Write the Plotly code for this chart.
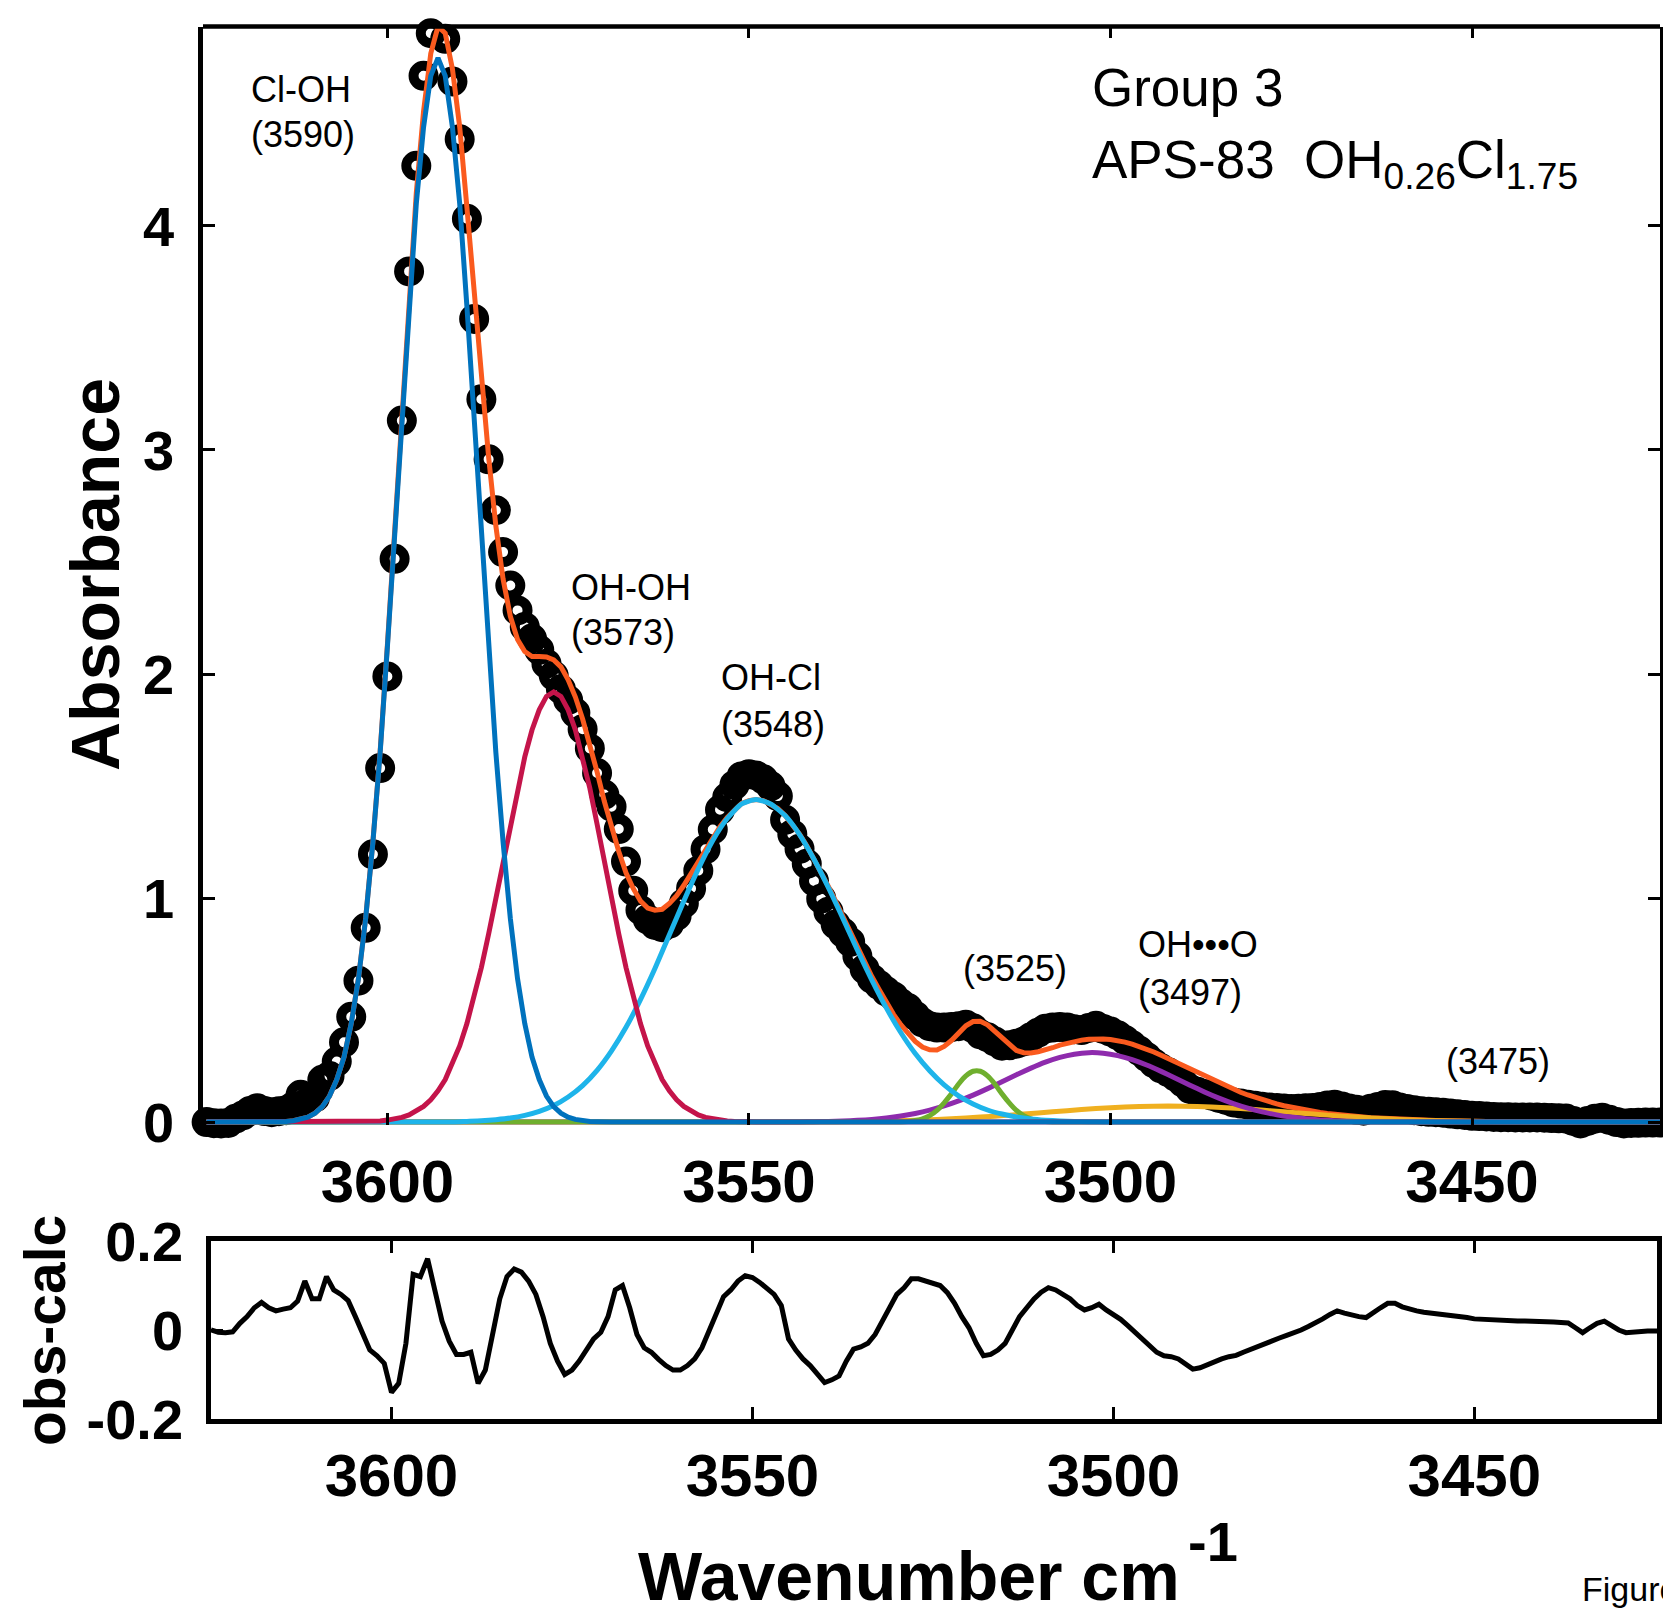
import plotly.graph_objects as go

# ---------------- data ----------------
WAVENUMBER = list(range(3625, 3423, -1))  # 3625 ... 3424 cm-1, 1 cm-1 steps

OBSERVED = [
    0.000, -0.005, -0.006, -0.004, 0.015, 0.030, 0.050, 0.062, 0.050, 0.044,   # 3625-3616
    0.049, 0.053, 0.071, 0.122, 0.092, 0.110, 0.189, 0.206, 0.270, 0.356,      # 3615-3606
    0.470, 0.631, 0.867, 1.195, 1.580, 1.989, 2.514, 3.131, 3.797, 4.268,      # 3605-3596
    4.670, 4.860, 4.910, 4.835, 4.645, 4.387, 4.032, 3.585, 3.226, 2.958,      # 3595-3586
    2.731, 2.544, 2.395, 2.284, 2.210, 2.158, 2.108, 2.046, 1.993, 1.932,      # 3585-3576
    1.884, 1.827, 1.754, 1.668, 1.558, 1.462, 1.408, 1.308, 1.163, 1.033,      # 3575-3566
    0.947, 0.905, 0.880, 0.870, 0.886, 0.921, 0.977, 1.043, 1.122, 1.218,      # 3565-3556
    1.306, 1.394, 1.450, 1.505, 1.544, 1.553, 1.547, 1.530, 1.500, 1.455,      # 3555-3546
    1.349, 1.285, 1.220, 1.153, 1.076, 0.997, 0.939, 0.882, 0.846, 0.804,      # 3545-3536
    0.741, 0.683, 0.640, 0.612, 0.584, 0.561, 0.530, 0.509, 0.475, 0.445,      # 3535-3526
    0.428, 0.422, 0.422, 0.424, 0.428, 0.435, 0.419, 0.392, 0.379, 0.360,      # 3525-3516
    0.341, 0.343, 0.350, 0.360, 0.379, 0.399, 0.417, 0.422, 0.424, 0.422,      # 3515-3506
    0.415, 0.411, 0.420, 0.430, 0.416, 0.404, 0.388, 0.367, 0.343, 0.318,      # 3505-3496
    0.291, 0.263, 0.240, 0.223, 0.203, 0.177, 0.148, 0.135, 0.126, 0.118,      # 3495-3486
    0.108, 0.099, 0.088, 0.083, 0.078, 0.073, 0.069, 0.065, 0.063, 0.061,      # 3485-3476
    0.059, 0.060, 0.062, 0.063, 0.068, 0.074, 0.078, 0.070, 0.061, 0.055,      # 3475-3466
    0.051, 0.060, 0.068, 0.076, 0.075, 0.065, 0.058, 0.053, 0.049, 0.046,      # 3465-3456
    0.044, 0.042, 0.038, 0.035, 0.032, 0.028, 0.027, 0.025, 0.023, 0.022,      # 3455-3446
    0.022, 0.021, 0.021, 0.021, 0.021, 0.020, 0.018, 0.017, 0.016, 0.005,      # 3445-3436
    -0.006, 0.005, 0.015, 0.020, 0.010, 0.000, -0.006, -0.004, -0.003, -0.002, # 3435-3426
    -0.002, -0.002,                                                            # 3425-3424
]

FIT_SUM = [
    0.000, 0.000, 0.000, 0.000, 0.000, 0.000, 0.000, 0.000, 0.000, 0.001,
    0.002, 0.003, 0.006, 0.012, 0.022, 0.040, 0.069, 0.116, 0.190, 0.290,
    0.440, 0.641, 0.912, 1.253, 1.655, 2.129, 2.634, 3.161, 3.672, 4.148,
    4.510, 4.770, 4.890, 4.860, 4.700, 4.442, 4.082, 3.705, 3.316, 2.968,
    2.661, 2.424, 2.258, 2.154, 2.100, 2.078, 2.078, 2.076, 2.063, 2.032,
    1.974, 1.897, 1.799, 1.688, 1.563, 1.432, 1.318, 1.208, 1.113, 1.043,
    0.987, 0.955, 0.946, 0.950, 0.976, 1.011, 1.057, 1.108, 1.162, 1.218,
    1.271, 1.319, 1.360, 1.395, 1.422, 1.435, 1.440, 1.435, 1.420, 1.400,
    1.369, 1.330, 1.285, 1.233, 1.176, 1.115, 1.051, 0.985, 0.916, 0.847,
    0.779, 0.713, 0.650, 0.592, 0.534, 0.481, 0.435, 0.394, 0.360, 0.335,
    0.323, 0.322, 0.338, 0.364, 0.398, 0.430, 0.449, 0.450, 0.434, 0.405,
    0.371, 0.343, 0.320, 0.310, 0.309, 0.314, 0.322, 0.332, 0.344, 0.352,
    0.360, 0.366, 0.370, 0.372, 0.371, 0.369, 0.364, 0.357, 0.348, 0.338,
    0.326, 0.313, 0.298, 0.283, 0.268, 0.252, 0.236, 0.220, 0.204, 0.188,
    0.173, 0.159, 0.145, 0.133, 0.121, 0.110, 0.099, 0.090, 0.081, 0.073,
    0.066, 0.060, 0.054, 0.048, 0.043, 0.039, 0.035, 0.032, 0.028, 0.025,
    0.023, 0.020, 0.018, 0.016, 0.015, 0.013, 0.011, 0.010, 0.009, 0.008,
    0.007, 0.006, 0.005, 0.005, 0.004, 0.003, 0.003, 0.003, 0.002, 0.002,
    0.002, 0.001, 0.001, 0.001, 0.001, 0.001, 0.000, 0.000, 0.000, 0.000,
    0.000, 0.000, 0.000, 0.000, 0.000, 0.000, 0.000, 0.000, 0.000, 0.000,
    0.000, 0.000,
]

RESIDUAL = [
    0.000, -0.005, -0.006, -0.004, 0.015, 0.030, 0.050, 0.062, 0.050, 0.043,
    0.047, 0.050, 0.065, 0.110, 0.070, 0.070, 0.120, 0.090, 0.080, 0.066,
    0.030, -0.010, -0.045, -0.058, -0.075, -0.140, -0.120, -0.030, 0.125, 0.120,
    0.160, 0.090, 0.020, -0.025, -0.055, -0.055, -0.050, -0.120, -0.090, -0.010,
    0.070, 0.120, 0.137, 0.130, 0.110, 0.080, 0.030, -0.030, -0.070, -0.100,
    -0.090, -0.070, -0.045, -0.020, -0.005, 0.030, 0.090, 0.100, 0.050, -0.010,
    -0.040, -0.050, -0.066, -0.080, -0.090, -0.090, -0.080, -0.065, -0.040, 0.000,
    0.035, 0.075, 0.090, 0.110, 0.122, 0.118, 0.107, 0.095, 0.080, 0.055,
    -0.020, -0.045, -0.065, -0.080, -0.100, -0.118, -0.112, -0.103, -0.070, -0.043,
    -0.038, -0.030, -0.010, 0.020, 0.050, 0.080, 0.095, 0.115, 0.115, 0.110,
    0.105, 0.100, 0.084, 0.060, 0.030, 0.005, -0.030, -0.058, -0.055, -0.045,
    -0.030, 0.000, 0.030, 0.050, 0.070, 0.085, 0.095, 0.090, 0.080, 0.070,
    0.055, 0.045, 0.050, 0.058, 0.045, 0.035, 0.024, 0.010, -0.005, -0.020,
    -0.035, -0.050, -0.058, -0.060, -0.065, -0.075, -0.088, -0.085, -0.078, -0.070,
    -0.065, -0.060, -0.057, -0.050, -0.043, -0.037, -0.030, -0.025, -0.018, -0.012,
    -0.007, 0.000, 0.008, 0.015, 0.025, 0.035, 0.043, 0.038, 0.033, 0.030,
    0.028, 0.040, 0.050, 0.060, 0.060, 0.052, 0.047, 0.043, 0.040, 0.038,
    0.037, 0.036, 0.033, 0.030, 0.028, 0.025, 0.024, 0.022, 0.021, 0.020,
    0.020, 0.020, 0.020, 0.020, 0.020, 0.019, 0.018, 0.017, 0.016, 0.005,
    -0.006, 0.005, 0.015, 0.020, 0.010, 0.000, -0.006, -0.004, -0.003, -0.002,
    -0.002, -0.002,
]

# fitted components
CLOH_W = [3625, 3617] + list(range(3615, 3570, -1)) + [3569, 3424]
CLOH_V = [0, 0,
          0.002, 0.003, 0.006, 0.012, 0.022, 0.040, 0.069, 0.116, 0.19, 0.29, 0.44,
          0.64, 0.91, 1.25, 1.65, 2.12, 2.62, 3.14, 3.64, 4.10, 4.44, 4.67,
          4.75,
          4.67, 4.44, 4.10, 3.64, 3.14, 2.62, 2.12, 1.65, 1.25, 0.91, 0.64,
          0.44, 0.29, 0.19, 0.116, 0.069, 0.040, 0.022, 0.012, 0.006, 0.003, 0.002,
          0, 0]

OHOH_W = [3625, 3605] + list(range(3603, 3550, -1)) + [3549, 3424]
OHOH_V = [0, 0,
          0.002, 0.003, 0.005, 0.009, 0.014, 0.021, 0.032, 0.048, 0.07, 0.10, 0.14,
          0.19, 0.26, 0.34, 0.44, 0.56, 0.69, 0.84, 1.00, 1.16, 1.33, 1.49, 1.63,
          1.75, 1.84, 1.90,
          1.92,
          1.90, 1.84, 1.75, 1.63, 1.49, 1.33, 1.16, 1.00, 0.84, 0.69, 0.56, 0.44,
          0.34, 0.26, 0.19, 0.14, 0.10, 0.07, 0.048, 0.032, 0.021, 0.014, 0.009,
          0.005, 0.003, 0.002,
          0, 0]

OHCL_W = [3625] + list(range(3591, 3498, -2)) + [3424]
OHCL_V = [0,
          0.000, 0.003, 0.006, 0.011, 0.018, 0.030, 0.048, 0.074, 0.112, 0.163, 0.231,
          0.318, 0.423, 0.547, 0.686, 0.836, 0.987, 1.13, 1.257, 1.355, 1.42,
          1.44,
          1.42, 1.368, 1.283, 1.173, 1.046, 0.909, 0.768, 0.634, 0.51, 0.40, 0.306,
          0.229, 0.166, 0.117, 0.081, 0.054, 0.036, 0.023, 0.014, 0.0086, 0.005,
          0.003, 0.0017, 0.001, 0.0,
          0]

B3525_W = [3625] + list(range(3530, 3506, -1)) + [3424]
B3525_V = [0,
           0.0, 0.001, 0.003, 0.007, 0.015, 0.029, 0.052, 0.086, 0.126, 0.170, 0.206,
           0.227, 0.227, 0.206, 0.170, 0.126, 0.086, 0.052, 0.029, 0.015, 0.007,
           0.003, 0.001, 0.0,
           0]

OHO_W = [3625] + list(range(3545, 3458, -2)) + [3424]
OHO_V = [0,
         0.0007, 0.001, 0.0018, 0.003, 0.005, 0.0079, 0.0122, 0.0185, 0.0271, 0.0386,
         0.0535, 0.0721, 0.0945, 0.1205, 0.1495, 0.1804, 0.2114, 0.241, 0.2677,
         0.289, 0.3033, 0.31,
         0.3076, 0.297, 0.279, 0.255, 0.2265, 0.196, 0.1647, 0.1347, 0.1071, 0.0828,
         0.0623, 0.0456, 0.0324, 0.0224, 0.0151, 0.0099, 0.0063, 0.0039, 0.0023,
         0.0013, 0.0007, 0.0,
         0]

B3475_W = [3625] + list(range(3548, 3431, -4)) + [3424]
B3475_V = [0,
           0.0003, 0.0007, 0.0013, 0.0025, 0.0045, 0.0077, 0.0122, 0.0186, 0.0266,
           0.036, 0.0462, 0.0561, 0.0645, 0.070, 0.072,
           0.070, 0.0645, 0.0561, 0.0462, 0.036, 0.0266, 0.0186, 0.0122, 0.0077,
           0.0045, 0.0025, 0.0013, 0.0007, 0.0003, 0.0,
           0]

X_TICKS = [3600, 3550, 3500, 3450]
Y_TICKS = [0, 1, 2, 3, 4]
RES_TICKS = [-0.2, 0, 0.2]
RES_TICK_TEXT = ["-0.2", "0", "0.2"]

# ---------------- styling ----------------
W, H = 1663, 1611
FONT = "Liberation Sans, Arial, sans-serif"
C_BLUE = "#0072BD"
C_RED = "#C4144A"
C_CYAN = "#1EB4EA"
C_GREEN = "#6FAF2E"
C_PURPLE = "#8E2BAD"
C_YELLOW = "#F0B020"
C_SUM = "#FA5A1E"
LW = 5


def px(x):
    return x / W


def py(y):
    return 1 - y / H


fig = go.Figure()

fig.add_trace(go.Scatter(
    x=WAVENUMBER, y=OBSERVED, mode="markers", cliponaxis=False,
    marker=dict(symbol="circle-open", size=20, color="black", line=dict(width=10, color="black")),
    xaxis="x", yaxis="y", showlegend=False))
fig.add_trace(go.Scatter(x=WAVENUMBER, y=FIT_SUM, mode="lines",
                         line=dict(color=C_SUM, width=5), xaxis="x", yaxis="y", showlegend=False))
for wv, vv, col, shape in [
    (B3475_W, B3475_V, C_YELLOW, "spline"),
    (OHO_W, OHO_V, C_PURPLE, "spline"),
    (B3525_W, B3525_V, C_GREEN, "spline"),
    (OHCL_W, OHCL_V, C_CYAN, "spline"),
    (OHOH_W, OHOH_V, C_RED, "linear"),
    (CLOH_W, CLOH_V, C_BLUE, "linear"),
]:
    fig.add_trace(go.Scatter(x=wv, y=vv, mode="lines",
                             line=dict(color=col, width=LW, shape=shape, smoothing=0.6),
                             xaxis="x", yaxis="y", showlegend=False))

fig.add_trace(go.Scatter(x=WAVENUMBER, y=RESIDUAL, mode="lines",
                         line=dict(color="black", width=5),
                         xaxis="x2", yaxis="y2", showlegend=False))

tickfont_big = dict(family=FONT, size=60, color="black", weight="bold")

fig.update_layout(
    template="none",
    width=W, height=H, autosize=False,
    margin=dict(l=0, r=0, t=0, b=0, pad=0, autoexpand=False),
    paper_bgcolor="white", plot_bgcolor="white",
    xaxis=dict(domain=[px(203), px(1660)], range=[3625.5, 3424], anchor="y", automargin=False,
               tickvals=X_TICKS, ticks="inside", ticklen=12, tickwidth=3, tickcolor="black",
               showline=True, linecolor="rgba(0,0,0,0)", linewidth=4.5, mirror="ticks",
               showgrid=False, zeroline=False, tickfont=tickfont_big, ticklabelstandoff=0),
    yaxis=dict(domain=[py(1124.8), py(26.5)], range=[-0.012, 4.89], anchor="x", automargin=False,
               tickvals=Y_TICKS, ticks="inside", ticklen=12, tickwidth=3, tickcolor="black",
               showline=True, linecolor="black", linewidth=4.5, mirror="ticks",
               showgrid=False, zeroline=False,
               tickfont=dict(family=FONT, size=56, color="black", weight="bold"),
               ticklabelstandoff=13),
    xaxis2=dict(domain=[px(211), px(1657)], range=[3625, 3424.7], anchor="y2", automargin=False,
                tickvals=X_TICKS, ticks="inside", ticklen=12, tickwidth=3, tickcolor="black",
                showline=True, linecolor="black", linewidth=4.5, mirror="ticks",
                showgrid=False, zeroline=False, tickfont=tickfont_big, ticklabelstandoff=0),
    yaxis2=dict(domain=[py(1419), py(1241)], range=[-0.2, 0.2], anchor="x2", automargin=False,
                tickvals=RES_TICKS, ticktext=RES_TICK_TEXT, ticks="inside", ticklen=12,
                tickwidth=3, tickcolor="black",
                showline=True, linecolor="black", linewidth=4.5, mirror="ticks",
                showgrid=False, zeroline=False,
                tickfont=dict(family=FONT, size=56, color="black", weight="bold"),
                ticklabelstandoff=12),
    shapes=[dict(type="line", xref="x domain", yref="y domain", x0=0, x1=1, y0=1, y1=1,
                 line=dict(color="black", width=4.5))],
)

ann = []


def label(text, x, y, size=36, bold=False, anchor="left", angle=0):
    ann.append(dict(text=text, x=px(x), y=py(y), xref="paper", yref="paper",
                    xanchor=anchor, yanchor="middle", showarrow=False, textangle=angle,
                    font=dict(family=FONT, size=size, color="black",
                              weight="bold" if bold else "normal")))


label("Cl-OH", 249, 89)
label("(3590)", 249, 134)
label("OH-OH", 569, 587)
label("(3573)", 569, 632)
label("OH-Cl", 719, 677)
label("(3548)", 719, 724)
label("(3525)", 961, 968)
label("OH\u2022\u2022\u2022O", 1136, 944)
label("(3497)", 1136, 992)
label("(3475)", 1444, 1061)
label("Group 3", 1090, 87, size=53)
label("APS-83  OH<sub>0.26</sub>Cl<sub>1.75</sub>", 1090, 163, size=53)
label("Absorbance", 95, 575, size=68, bold=True, anchor="center", angle=-90)
label("obs-calc", 45, 1331, size=57, bold=True, anchor="center", angle=-90)
label("Wavenumber cm", 909, 1576, size=68, bold=True, anchor="center")
label("-1", 1186, 1541, size=56, bold=True)
label("Figure", 1580, 1589, size=34)

fig.update_layout(annotations=ann)

fig.write_html("out.html", config={"displayModeBar": False})
